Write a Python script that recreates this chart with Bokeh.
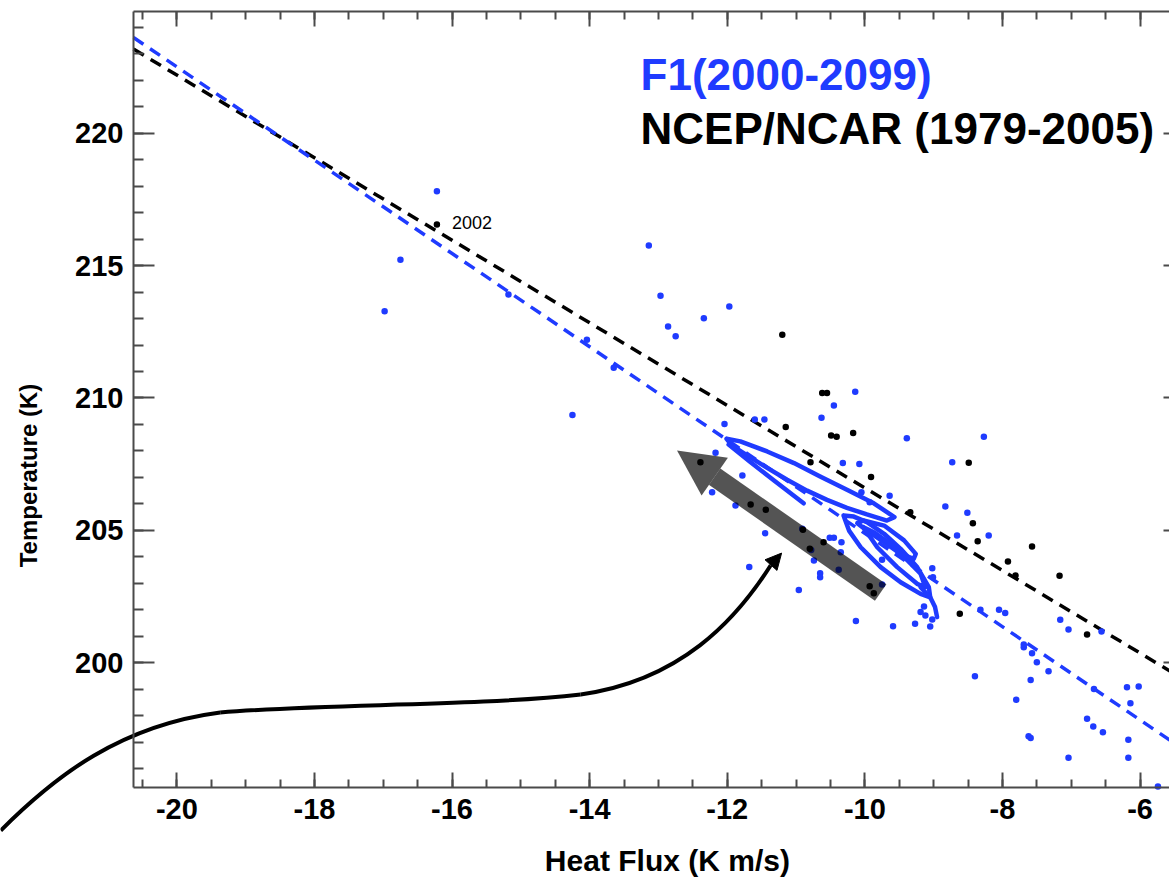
from bokeh.plotting import figure
from bokeh.models import (LinearAxis, SingleIntervalTicker, Range1d, Label,
                          Arrow, NormalHead, CustomJSTickFormatter)
from bokeh.embed import file_html
from bokeh.resources import INLINE

# ---------------- data ----------------
BLUE = "#1f3bff"
FONT = "Liberation Sans"

# F1 (2000-2099) yearly points
f1_x = [-16.22, -16.75, -16.98, -13.14, -12.97, -12.86, -12.75, -12.34, -11.97, -14.04,
        -13.65, -15.18, -14.25, -10.14, -10.45, -10.63, -12.04, -11.60, -11.46, -9.39,
        -8.27, -12.17, -10.32, -10.08, -8.73, -11.78, -10.05, -9.64, -9.93, -8.83,
        -8.51, -12.22, -11.88, -11.45, -10.91, -10.51, -10.45, -10.34, -10.78, -10.65,
        -10.65, -10.38, -9.75, -11.68, -10.96, -9.75, -10.13, -9.59, -9.27, -9.05,
        -9.02, -9.19, -9.12, -9.14, -9.02, -9.01, -8.66, -8.20, -8.05, -8.32,
        -7.96, -7.16, -7.04, -6.56, -7.69, -7.69, -7.57, -7.50, -7.33, -7.59,
        -8.40, -7.80, -6.67, -6.19, -6.02, -6.14, -6.77, -6.68, -6.54, -7.62,
        -7.59, -6.17, -7.04, -6.17, -5.74, -10.74, -10.35]
f1_y = [217.81, 215.22, 213.28, 215.76, 213.86, 212.70, 212.33, 213.01, 213.46, 212.20,
        211.14, 213.91, 209.36, 210.24, 209.72, 209.25, 209.02, 209.19, 209.19, 208.48,
        208.54, 207.93, 207.54, 207.51, 207.57, 207.07, 206.44, 206.31, 206.06, 205.90,
        205.66, 206.44, 205.94, 204.89, 205.06, 204.72, 204.72, 204.55, 204.26, 203.38,
        203.23, 203.51, 203.89, 203.61, 202.75, 202.95, 201.57, 201.38, 201.47, 201.37,
        201.63, 201.91, 201.78, 202.12, 203.57, 203.23, 204.80, 204.80, 202.00, 202.00,
        201.88, 201.62, 201.25, 201.18, 200.69, 200.58, 200.36, 200.02, 199.68, 199.35,
        199.49, 198.60, 199.01, 199.07, 199.10, 198.47, 197.88, 197.59, 197.37, 197.22,
        197.15, 197.09, 196.41, 196.41, 195.32, 203.86, 204.17]

# NCEP/NCAR (1979-2005) yearly points
ncep_x = [-16.22, -11.20, -10.62, -10.55, -11.15, -10.49, -10.41, -10.17, -10.79, -9.91,
          -9.34, -8.49, -8.43, -8.36, -8.62, -12.39, -11.66, -11.44, -10.90, -10.80,
          -10.60, -9.93, -9.87, -7.57, -7.92, -7.81, -7.17, -6.77]
ncep_y = [216.55, 212.39, 210.19, 210.19, 208.90, 208.58, 208.54, 208.68, 207.57, 207.01,
          205.68, 207.55, 205.27, 204.59, 201.85, 207.57, 205.98, 205.78, 205.02, 204.30,
          204.55, 202.89, 202.62, 204.39, 203.82, 203.29, 203.28, 201.06]

# regression lines (end points)
fit_x = [-20.63, -5.35]
f1_fit_y = [223.62, 196.69]
ncep_fit_y = [223.18, 199.35]

# F1 smoothed trajectory (loops)
loop_xs = [
    [-12.01, -11.81, -11.42, -11.03, -10.65, -10.26, -9.87, -9.57, -9.68, -9.97,
     -10.26, -10.55, -10.84, -11.13, -11.42, -11.71, -11.93, -12.01],
    [-11.98, -11.66, -11.32, -10.89],
    [-10.31, -10.23, -10.06, -9.77, -9.48, -9.19, -9.05, -9.07, -9.24, -9.48,
     -9.72, -9.97, -10.16, -10.31],
    [-10.02, -9.72, -9.43, -9.26, -9.29, -9.48, -9.72, -9.97, -10.11, -10.02],
    [-10.02, -9.82, -9.53, -9.24, -9.12, -9.19, -9.38, -9.63, -9.87, -10.02],
    [-9.19, -9.05, -8.98, -8.95],
]
loop_ys = [
    [208.46, 208.36, 207.98, 207.54, 207.03, 206.53, 206.02, 205.50, 205.37, 205.60,
     205.85, 206.15, 206.50, 206.91, 207.36, 207.83, 208.20, 208.46],
    [208.24, 207.57, 206.88, 206.02],
    [205.56, 204.99, 204.36, 203.61, 203.04, 202.60, 202.47, 202.85, 203.61, 204.30,
     204.87, 205.31, 205.52, 205.56],
    [205.37, 205.18, 204.62, 204.11, 203.92, 204.11, 204.55, 204.99, 205.27, 205.37],
    [205.12, 204.36, 203.61, 202.98, 202.85, 203.36, 203.86, 204.49, 204.93, 205.12],
    [202.85, 202.47, 202.10, 201.72],
]

# axis extent
X_LO, X_HI = -20.63, -5.35
Y_LO, Y_HI = 195.30, 224.60

# ---------------- figure ----------------
p = figure(width=1169, height=879, title=None,
           x_range=Range1d(-22.563, -5.572), y_range=Range1d(191.809, 225.016),
           x_axis_location=None, y_axis_location=None,
           min_border=0, toolbar_location=None, output_backend="svg")
p.grid.visible = False
p.outline_line_color = None
p.background_fill_color = "white"
p.border_fill_color = "white"

AX_C = "#4a4a4a"
plain_fmt = CustomJSTickFormatter(code="return String(tick)")


def style_axis(ax, tick_in, minor_in, labels):
    ax.axis_line_color = AX_C
    ax.axis_line_width = 2
    ax.major_tick_line_color = AX_C
    ax.major_tick_line_width = 2
    ax.minor_tick_line_color = AX_C
    ax.minor_tick_line_width = 2
    ax.major_tick_in = tick_in
    ax.major_tick_out = 0
    ax.minor_tick_in = minor_in
    ax.minor_tick_out = 0
    ax.formatter = plain_fmt
    ax.major_label_text_font = FONT
    ax.major_label_text_font_style = "bold"
    ax.major_label_text_font_size = "29px"
    ax.major_label_text_color = "black" if labels else None


xb = LinearAxis(fixed_location=Y_LO, bounds=(X_LO, X_HI),
                ticker=SingleIntervalTicker(interval=2, num_minor_ticks=4))
style_axis(xb, 15, 8, True)
xb.major_label_standoff = 12
p.add_layout(xb, "below")

xt = LinearAxis(fixed_location=Y_HI, bounds=(X_LO, X_HI),
                ticker=SingleIntervalTicker(interval=2, num_minor_ticks=4))
style_axis(xt, 15, 8, False)
p.add_layout(xt, "above")

yl = LinearAxis(fixed_location=X_LO, bounds=(Y_LO, Y_HI),
                ticker=SingleIntervalTicker(interval=5, num_minor_ticks=5))
style_axis(yl, 21, 10, True)
yl.major_label_standoff = 10
p.add_layout(yl, "left")

yr = LinearAxis(fixed_location=X_HI, bounds=(Y_LO, Y_HI),
                ticker=SingleIntervalTicker(interval=5, num_minor_ticks=5))
style_axis(yr, 21, 10, False)
p.add_layout(yr, "right")

# axis titles
p.add_layout(Label(x=-12.87, y=192.53, text="Heat Flux (K m/s)",
                   text_align="center", text_baseline="middle", text_color="black",
                   text_font=FONT, text_font_style="bold", text_font_size="30px"))
p.add_layout(Label(x=-22.156, y=207.07, text="Temperature (K)", angle=1.5708,
                   text_align="center", text_baseline="middle", text_color="black",
                   text_font=FONT, text_font_style="bold", text_font_size="24px"))

# regression lines
p.line(fit_x, ncep_fit_y, line_color="black", line_width=3.5, line_dash="12 8")
p.line(fit_x, f1_fit_y, line_color=BLUE, line_width=3.5, line_dash="12 8")

# trajectory loops
p.multi_line(loop_xs, loop_ys, line_color=BLUE, line_width=4.5,
             line_join="round", line_cap="round")

# points
p.scatter(f1_x, f1_y, size=6.5, color=BLUE, line_color=None)
p.scatter(ncep_x, ncep_y, size=6.5, color="black", line_color=None)

# labels / legend text
p.add_layout(Label(x=-16.00, y=216.40, text="2002", text_font=FONT,
                   text_font_size="18px", text_color="black"))
p.add_layout(Label(x=-13.26, y=221.30, text="F1(2000-2099)", text_font=FONT,
                   text_font_style="bold", text_font_size="44px", text_color=BLUE))
p.add_layout(Label(x=-13.26, y=219.27, text="NCEP/NCAR (1979-2005)", text_font=FONT,
                   text_font_style="bold", text_font_size="44px", text_color="black"))

# big gray arrow
p.add_layout(Arrow(x_start=-9.77, y_start=202.65, x_end=-12.73, y_end=208.02,
                   line_color="black", line_alpha=0.67, line_width=20,
                   end=NormalHead(size=46, fill_color="black", fill_alpha=0.67,
                                  line_color=None)))

# curved black pointer
p.bezier(x0=[-22.56, -19.37, -14.13], y0=[193.66, 198.12, 198.80],
         x1=[-19.37, -14.13, -11.37], y1=[198.12, 198.80, 203.67],
         cx0=[-21.76, -17.77, -12.68], cy0=[195.74, 198.46, 199.33],
         cx1=[-20.82, -15.73, -11.88], cy1=[197.63, 198.34, 201.59],
         line_color="black", line_width=4)
p.add_layout(Arrow(x_start=-11.37, y_start=203.67, x_end=-11.21, y_end=204.14,
                   line_color="black", line_width=4,
                   end=NormalHead(size=16, fill_color="black", line_color="black")))

open("out.html", "w").write(file_html(p, INLINE))
